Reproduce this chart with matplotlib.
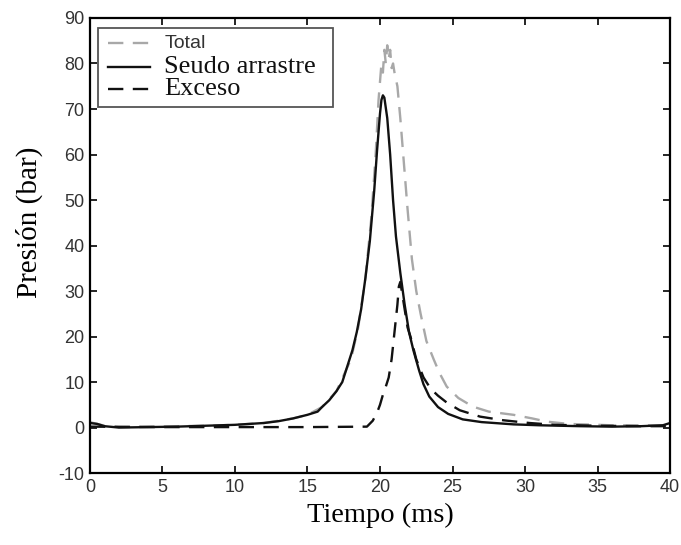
import numpy as np
import matplotlib
matplotlib.use('Agg')
import matplotlib.pyplot as plt
from matplotlib.lines import Line2D
from matplotlib.patches import Rectangle

plt.rcParams['axes.unicode_minus'] = False

# Seudo arrastre (solid)
t_seudo = [0, 0.5, 1, 2, 4, 6, 8, 10, 11, 12, 13, 14, 15, 15.7, 16, 16.5, 17, 17.4,
           17.8, 18.1, 18.4, 18.7, 19.0, 19.3, 19.6, 19.8, 20.0, 20.1, 20.2, 20.3,
           20.5, 20.7, 20.9, 21.1, 21.4, 21.7, 22.0, 22.3, 22.7, 23.0, 23.4, 24.0,
           24.7, 25.7, 27, 29.2, 31, 33.8, 36, 38, 39.5, 40]
p_seudo = [1.0, 0.8, 0.3, 0.0, 0.1, 0.2, 0.4, 0.6, 0.8, 1.0, 1.4, 2.0, 2.8, 3.5, 4.5,
           6, 8, 10, 14, 17, 21, 26, 33, 41, 52, 61, 69, 72, 73, 72.5, 68, 60, 50,
           42, 34, 27, 21, 17, 12.5, 9.5, 6.8, 4.5, 3, 1.8, 1.2, 0.7, 0.5, 0.3, 0.2,
           0.3, 0.5, 1.0]

# Exceso (black dashed)
t_exceso = [0, 5, 10, 15, 19.1, 19.5, 19.8, 20.0, 20.2, 20.4, 20.6, 20.8, 21.0, 21.2,
            21.3, 21.4, 21.5, 21.7, 21.9, 22.1, 22.5, 23.0, 23.5, 24.0, 24.6, 25.5,
            26.9, 28.5, 30.3, 32, 35, 38, 40]
p_exceso = [0.2, 0.1, 0.1, 0.1, 0.2, 1.5, 3.3, 5, 7.2, 9, 11, 15, 21, 27, 31, 32, 30,
            26, 22, 20, 15, 11, 8.5, 7, 5.5, 3.8, 2.4, 1.6, 1.0, 0.6, 0.4, 0.3, 0.3]

# Total (gray dashed)
t_total = [0, 0.5, 1, 2, 4, 6, 8, 10, 12, 14, 15, 16, 17, 18, 18.5, 19, 19.4, 19.7,
           19.9, 20.0, 20.1, 20.2, 20.3, 20.4, 20.5, 20.6, 20.7, 20.8, 20.9, 21.0,
           21.2, 21.4, 21.6, 21.9, 22.2, 22.5, 22.8, 23.2, 23.7, 24.1, 24.6, 25.4,
           26.4, 27.5, 29.2, 30.5, 31.5, 33, 36, 40]
p_total = [1.2, 0.8, 0.4, 0.1, 0.2, 0.3, 0.4, 0.6, 1.0, 2.0, 2.8, 4.5, 8, 15, 22, 33,
           46, 60, 72, 76, 80, 78, 83, 80, 84, 81, 83, 79, 80, 78, 75, 68, 60, 48,
           37, 30, 25, 19, 15, 12, 9, 6.5, 4.6, 3.5, 2.8, 2.0, 1.3, 0.8, 0.5, 0.5]

labels = ['Total', 'Seudo arrastre', 'Exceso']

gray = '#a8a8a8'
black = '#111111'
dash = (0, (6.5, 4))

fig = plt.figure(figsize=(6.81, 5.45), dpi=100)
ax = fig.add_axes([0.132, 0.132, 0.852, 0.835])

ax.plot(t_total, p_total, color=gray, lw=1.7, ls=dash)
ax.plot(t_seudo, p_seudo, color=black, lw=1.7, ls='-')
ax.plot(t_exceso, p_exceso, color=black, lw=1.7, ls=dash)

ax.set_xlim(0, 40)
ax.set_ylim(-10, 90)
ax.set_xticks(np.arange(0, 41, 5))
ax.set_yticks(np.arange(-10, 91, 10))
ax.tick_params(direction='in', length=5, width=1.2, top=True, right=True,
               labelsize=13, labelcolor='#333333', pad=4)
for lab in ax.get_xticklabels() + ax.get_yticklabels():
    lab.set_family('Liberation Sans')
for s in ax.spines.values():
    s.set_linewidth(1.6)

ax.set_xlabel('Tiempo (ms)', family='Liberation Serif', fontsize=20.5, labelpad=5)
ax.set_ylabel('Presión (bar)', family='Liberation Serif', fontsize=21, labelpad=2)
ax.yaxis.set_label_coords(-0.08, 0.55)

# legend drawn by hand to match the original box
ax.add_patch(Rectangle((0.014, 0.804), 0.405, 0.174, transform=ax.transAxes,
                       facecolor='white', edgecolor='#555555', lw=1.3, zorder=5))
styles = [(gray, dash), (black, '-'), (black, dash)]
rows = [0.945, 0.893, 0.843]
for (c, ls), y, name in zip(styles, rows, labels):
    ax.add_line(Line2D([0.031, 0.103], [y, y], transform=ax.transAxes, color=c,
                       lw=1.7, ls=ls, zorder=6))
    if name == 'Total':
        ax.text(0.128, y, name, transform=ax.transAxes, va='center', ha='left',
                family='Liberation Sans', fontsize=14, color='#333333', zorder=6)
    else:
        ax.text(0.128, y, name, transform=ax.transAxes, va='center', ha='left',
                family='Liberation Serif', fontsize=19, color='#111111', zorder=6)

fig.savefig('out.png', dpi=100)
